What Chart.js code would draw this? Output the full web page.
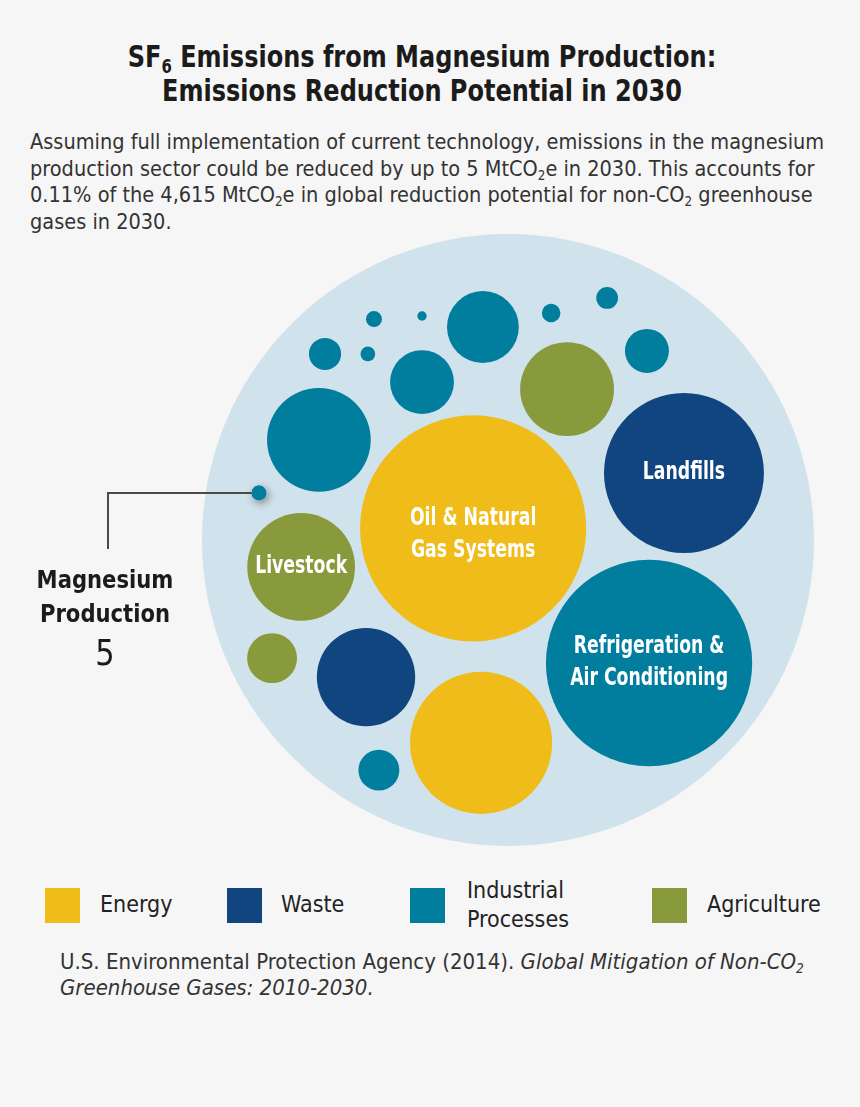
<!DOCTYPE html>
<html>
<head>
<meta charset="utf-8">
<script src="https://cdn.jsdelivr.net/npm/chart.js@4/dist/chart.umd.min.js"></script>
<style>
  body {
    margin: 0;
    width: 860px;
    height: 1107px;
    position: relative;
    overflow: hidden;
    background: #f6f6f6;
    color: #1b1b1b;
    font-family: "DejaVu Sans Condensed", "Liberation Sans", sans-serif;
  }
  sub { font-size: 0.62em; vertical-align: -0.3em; line-height: 0; }
  #title {
    position: absolute; top: 40px; left: -8px; width: 860px;
    text-align: center; font-weight: bold; font-size: 30px; line-height: 34px;
    transform: scaleX(0.89); transform-origin: 430px 0;
  }
  #intro {
    position: absolute; top: 129px; left: 30px; width: 900px; white-space: nowrap;
    font-size: 22px; line-height: 26.5px; color: #333;
    transform: scaleX(0.978); transform-origin: 0 0;
  }
  #chartBox { position: absolute; left: 0; top: 225px; width: 860px; height: 645px; }
  #mgLabel {
    position: absolute; left: 0; width: 210px; top: 563px;
    text-align: center; font-weight: bold; font-size: 25px; line-height: 34px;
    transform: scaleX(0.94); transform-origin: 105px 0;
  }
  #mgLabel .val { font-weight: normal; font-size: 36px; line-height: 44px; }
  .key { position: absolute; width: 35px; height: 35px; top: 888px; }
  .keyText { position: absolute; font-size: 23px; line-height: 29px; color: #222; }
  #source {
    position: absolute; left: 60px; top: 949px; white-space: nowrap;
    font-size: 22px; line-height: 26px; color: #333;
  }
</style>
</head>
<body>
<div id="title">SF<sub>6</sub> Emissions from Magnesium Production:<br>Emissions Reduction Potential in 2030</div>
<div id="intro">Assuming full implementation of current technology, emissions in the magnesium<br>production sector could be reduced by up to 5 MtCO<sub>2</sub>e in 2030. This accounts for<br>0.11% of the 4,615 MtCO<sub>2</sub>e in global reduction potential for non-CO<sub>2</sub> greenhouse<br>gases in 2030.</div>

<div id="chartBox"><canvas id="canvas_bolhas" width="860" height="645"></canvas></div>

<div id="mgLabel">Magnesium<br>Production<br><span class="val">5</span></div>

<div id="legend"></div>

<div id="source">U.S. Environmental Protection Agency (2014). <i>Global Mitigation of Non-CO<sub>2</sub><br>Greenhouse Gases: 2010-2030.</i></div>

<script>
// reduction potential in 2030 (MtCO2e), one bubble per source
const sectors = [
    'Oil & Natural Gas Systems', 'Landfills', 'Refrigeration & Air Conditioning', 'Livestock',
    'Magnesium Production', 'Energy source 2', 'Waste source 2', 'Agriculture source 2',
    'Agriculture source 3', 'Industrial source 2', 'Industrial source 3', 'Industrial source 4',
    'Industrial source 5', 'Industrial source 6', 'Industrial source 7', 'Industrial source 8',
    'Industrial source 9', 'Industrial source 10', 'Industrial source 11', 'Industrial source 12'
];
const sectorGroups = [
    'Energy', 'Waste', 'Industrial Processes', 'Agriculture',
    'Industrial Processes', 'Energy', 'Waste', 'Agriculture',
    'Agriculture', 'Industrial Processes', 'Industrial Processes', 'Industrial Processes',
    'Industrial Processes', 'Industrial Processes', 'Industrial Processes', 'Industrial Processes',
    'Industrial Processes', 'Industrial Processes', 'Industrial Processes', 'Industrial Processes'
];
const reduction = [1190, 595, 990, 270, 5, 470, 225, 205, 58, 250, 120, 95, 45, 39, 24, 11, 8, 6, 5, 2];

// packed layout of the bubbles, in units of the ring (ring radius = 100)
const bubbleX = [-11.4, 57.5, 46.1, -67.6, -81.4, -8.8, -46.4, 19.3, -77.1, -61.8, -8.2, -28.1, 45.4, -42.2, -59.8, 32.4, 14.1, -43.8, -45.8, -28.1];
const bubbleY = [3.8, 21.9, -40.2, -8.8, 15.4, -66.3, -44.8, 49.3, -38.6, 32.7, 69.6, 51.6, 61.8, -75.2, 60.8, 79.1, 74.2, 72.2, 60.8, 73.2];

const groups = ['Energy', 'Waste', 'Industrial Processes', 'Agriculture'];
const groupLegend = ['Energy', 'Waste', 'Industrial<br>Processes', 'Agriculture'];

// names written inside the bubbles
const bubbleLabels = {
    'Oil & Natural Gas Systems': ['Oil & Natural', 'Gas Systems'],
    'Landfills': ['Landfills'],
    'Refrigeration & Air Conditioning': ['Refrigeration &', 'Air Conditioning'],
    'Livestock': ['Livestock'],
};
const labelShift = { 'Oil & Natural Gas Systems': 6 };

const groupColors = {
    'Energy': '#f0bc19',
    'Waste': '#10457f',
    'Industrial Processes': '#017d9e',
    'Agriculture': '#889a3b',
};
const RING_RADIUS = 100;
const PX_PER_UNIT = 3.06;
const PX_PER_SQRT = 3.278;   // bubble area ~ MtCO2e
const CENTER_PX = { x: 508, y: 315 };
const W = 860, H = 645;

const pontos = sectors.map((nome, i) => ({
    x: bubbleX[i],
    y: bubbleY[i],
    r: Math.sqrt(reduction[i]) * PX_PER_SQRT,
}));

const fonte = '"DejaVu Sans Condensed", "Liberation Sans", sans-serif';

const anelPlugin = {
    id: 'anel',
    beforeDatasetsDraw(chart) {
        const { ctx, scales: { x, y } } = chart;
        const cx = x.getPixelForValue(0);
        const cy = y.getPixelForValue(0);
        const raio = x.getPixelForValue(RING_RADIUS) - cx;

        ctx.save();
        ctx.fillStyle = '#d0e2eb';
        ctx.beginPath();
        ctx.arc(cx, cy, raio, 0, Math.PI * 2);
        ctx.fill();

        // soft shadow under the magnesium dot
        const mg = chart.getDatasetMeta(0).data[sectors.indexOf('Magnesium Production')];
        ctx.shadowColor = 'rgba(0,0,0,0.45)';
        ctx.shadowBlur = 9;
        ctx.shadowOffsetX = 2;
        ctx.shadowOffsetY = 3;
        ctx.fillStyle = groupColors['Industrial Processes'];
        ctx.beginPath();
        ctx.arc(mg.x, mg.y, mg.options.radius, 0, Math.PI * 2);
        ctx.fill();
        ctx.restore();
    },
    afterDatasetsDraw(chart) {
        const { ctx } = chart;
        const meta = chart.getDatasetMeta(0);

        ctx.save();
        ctx.fillStyle = '#ffffff';
        ctx.font = 'bold 24px ' + fonte;
        ctx.textAlign = 'center';
        ctx.textBaseline = 'middle';
        sectors.forEach((nome, i) => {
            const linhas = bubbleLabels[nome];
            if (!linhas) return;
            const el = meta.data[i];
            const passo = 32;
            const desloc = labelShift[nome] || 0;
            linhas.forEach((l, k) => {
                ctx.save();
                ctx.translate(el.x, el.y + desloc + (k - (linhas.length - 1) / 2) * passo);
                ctx.scale(0.8, 1);
                ctx.fillText(l, 0, 0);
                ctx.restore();
            });
        });

        // leader line to the magnesium label
        const mg = meta.data[sectors.indexOf('Magnesium Production')];
        ctx.strokeStyle = '#4a4a4a';
        ctx.lineWidth = 2;
        ctx.beginPath();
        ctx.moveTo(mg.x - mg.options.radius, mg.y);
        ctx.lineTo(108, mg.y);
        ctx.lineTo(108, mg.y + 56);
        ctx.stroke();
        ctx.restore();
    }
};

new Chart(document.getElementById('canvas_bolhas'), {
    type: 'bubble',
    data: {
        labels: sectors,
        datasets: [{
            label: 'MtCO2e',
            data: pontos,
            backgroundColor: sectorGroups.map(g => groupColors[g]),
            borderWidth: 0,
            hoverBorderWidth: 0,
            clip: false,
        }],
    },
    options: {
        responsive: false,
        animation: false,
        events: [],
        layout: { padding: 0, autoPadding: false },
        scales: {
            x: { display: false, min: -CENTER_PX.x / PX_PER_UNIT, max: (W - CENTER_PX.x) / PX_PER_UNIT },
            y: { display: false, min: -(H - CENTER_PX.y) / PX_PER_UNIT, max: CENTER_PX.y / PX_PER_UNIT },
        },
        plugins: {
            legend: { display: false },
            tooltip: { enabled: false },
        },
    },
    plugins: [anelPlugin],
});

// legend
const legendaPos = [[45, 100], [227, 281], [410, 467], [652, 707]];
const legenda = document.getElementById('legend');
groups.forEach((g, i) => {
    const q = document.createElement('div');
    q.className = 'key';
    q.style.left = legendaPos[i][0] + 'px';
    q.style.background = groupColors[g];
    legenda.appendChild(q);

    const t = document.createElement('div');
    t.className = 'keyText';
    t.style.left = legendaPos[i][1] + 'px';
    const duasLinhas = groupLegend[i].includes('<br>');
    t.style.top = (duasLinhas ? 876 : 890) + 'px';
    t.innerHTML = groupLegend[i];
    legenda.appendChild(t);
});
</script>
</body>
</html>
